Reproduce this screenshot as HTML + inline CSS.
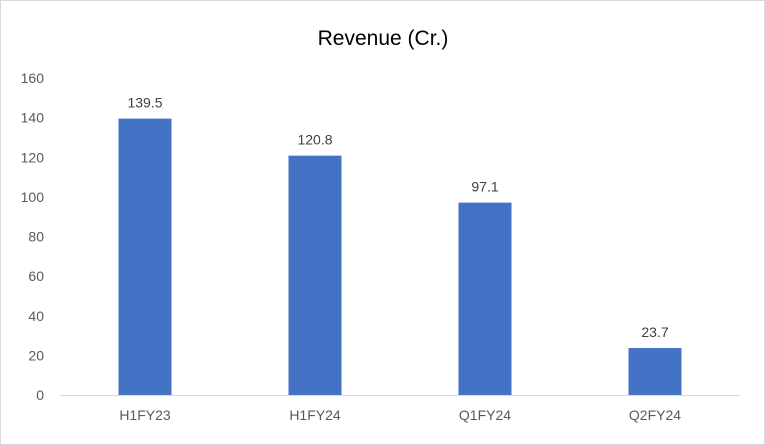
<!DOCTYPE html>
<html><head><meta charset="utf-8"><style>
html,body{margin:0;padding:0;background:#fff}
svg{display:block;font-family:"Liberation Sans",sans-serif}
</style></head><body>
<svg id="chart" width="765" height="445" viewBox="0 0 765 445">
<rect x="0.5" y="0.5" width="764" height="444" fill="#fff" stroke="#d9d9d9"/>
<text x="383" y="45" text-anchor="middle" font-size="21" fill="#000">Revenue (Cr.)</text>
<g id="yaxis"></g>
<g id="bars"></g>
<g id="xaxis"></g>
</svg>
<script>
const categories = ["H1FY23","H1FY24","Q1FY24","Q2FY24"];
const revenue = [139.5,120.8,97.1,23.7];
const yTicks = [0,20,40,60,80,100,120,140,160];
const NS="http://www.w3.org/2000/svg";
const x0=60,x1=740,yBase=395,yTop=78,yMax=160;
const y=v=>yBase-(v/yMax)*(yBase-yTop);
const band=(x1-x0)/categories.length;
const xc=i=>x0+band*(i+0.5);
function mk(tag,attrs,parent,text){const e=document.createElementNS(NS,tag);for(const k in attrs)e.setAttribute(k,attrs[k]);if(text!==undefined)e.textContent=text;parent.appendChild(e);return e;}
const ya=document.getElementById('yaxis'),bg=document.getElementById('bars'),xa=document.getElementById('xaxis');
yTicks.forEach(t=>{const e=mk('text',{x:44,y:y(t)+5,'text-anchor':'end','font-size':14,fill:'#595959'},ya,t);

});
const ax=mk('line',{x1:x0,x2:x1,y1:yBase+0.5,y2:yBase+0.5,stroke:'#d9d9d9','stroke-width':1},xa);


const bw=53;
categories.forEach((c,i)=>{
const r=mk('rect',{x:xc(i)-bw/2,y:y(revenue[i]),width:bw,height:yBase-y(revenue[i]),fill:'#4472c4'},bg);


const l=mk('text',{x:xc(i),y:y(revenue[i])-11,'text-anchor':'middle','font-size':14,fill:'#404040'},bg,revenue[i].toFixed(1));


const cl=mk('text',{x:xc(i),y:420,'text-anchor':'middle','font-size':14,fill:'#595959'},xa,c);


});
</script>
</body></html>
